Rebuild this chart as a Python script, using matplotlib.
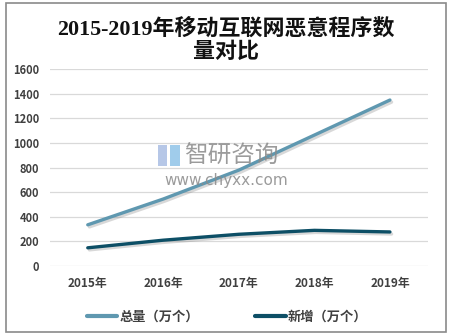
import matplotlib
matplotlib.use("Agg")
import matplotlib.pyplot as plt
import matplotlib.patheffects as pe
from matplotlib.patches import Rectangle

# Data
years = ["2015年", "2016年", "2017年", "2018年", "2019年"]
total = [335, 545, 780, 1065, 1350]
new_added = [148, 210, 258, 290, 277]
yticks = [0, 200, 400, 600, 800, 1000, 1200, 1400, 1600]
series_names = ["总量（万个）", "新增（万个）"]

W, H = 451, 334
CJK = ["Noto Sans CJK SC", "DejaVu Sans"]
TXT = "#404040"

fig = plt.figure(figsize=(W / 100, H / 100), dpi=100)
fig.patch.set_facecolor("white")

# outer frame
fig.patches.append(Rectangle((5.5 / W, 2.5 / H), 440 / W, 328.5 / H,
                             transform=fig.transFigure, fill=False,
                             edgecolor="#8a8a8a", linewidth=1.2))

ax = fig.add_axes([50 / W, 1 - 266 / H, 377.7 / W, (266 - 69.3) / H])
x = list(range(len(years)))

for s in ax.spines.values():
    s.set_visible(False)
ax.set_xlim(-0.5, len(years) - 0.5)
ax.set_ylim(0, 1600)
ax.set_yticks(yticks)
ax.set_yticklabels([str(v) for v in yticks], fontsize=8, fontweight="bold",
                   color=TXT, family=CJK)
ax.set_xticks(x)
ax.set_xticklabels(years, fontsize=8.5, fontweight="bold", color=TXT, family=CJK)
ax.tick_params(axis="y", length=0, pad=8)
ax.tick_params(axis="x", length=0, pad=8)
ax.grid(axis="y", color="#d9d9d9", linewidth=0.9)
ax.set_axisbelow(True)

# watermark
fig.patches.append(Rectangle((158 / W, 1 - 166 / H), 9 / W, 21 / H,
                             transform=fig.transFigure, facecolor="#a9bde3",
                             edgecolor="none", alpha=0.85, zorder=0))
fig.patches.append(Rectangle((170 / W, 1 - 166 / H), 10 / W, 21 / H,
                             transform=fig.transFigure, facecolor="#8fc3e8",
                             edgecolor="none", alpha=0.85, zorder=0))
fig.text(184 / W, 1 - 156 / H, "智研咨询", fontsize=17, color="#8a8a8a",
         ha="left", va="center", family=CJK, alpha=0.85)
fig.text(226 / W, 1 - 180 / H, "www.chyxx.com", fontsize=11, color="#8a8a8a",
         ha="center", va="center", alpha=0.85)

shadow = [pe.SimpleLineShadow(offset=(1.2, -1.5), shadow_color="#808080", alpha=0.3),
          pe.Normal()]
l1, = ax.plot(x, total, color="#5f98b0", linewidth=2.4, solid_capstyle="round",
              solid_joinstyle="round", path_effects=shadow, zorder=3,
              label=series_names[0])
l2, = ax.plot(x, new_added, color="#0d4f66", linewidth=2.4, solid_capstyle="round",
              solid_joinstyle="round", path_effects=shadow, zorder=3,
              label=series_names[1])

# title
fig.text(226 / W, 1 - 41 / H, "2015-2019年移动互联网恶意程序数\n量对比",
         ha="center", va="center", fontsize=15.8, fontweight="bold",
         family=["Liberation Serif", "Noto Sans CJK SC"], color="#111111",
         linespacing=1.15)

leg = fig.legend(handles=[l1, l2], loc="center", bbox_to_anchor=(227 / W, 1 - 317 / H),
                 ncol=2, frameon=False, handlelength=2.3, handletextpad=0.15,
                 columnspacing=4.3, prop={"family": CJK, "weight": "bold", "size": 9.5})
for t in leg.get_texts():
    t.set_color(TXT)
for h in leg.legend_handles:
    h.set_path_effects([])
    h.set_linewidth(3)

fig.savefig("out.png", dpi=100, facecolor="white")
